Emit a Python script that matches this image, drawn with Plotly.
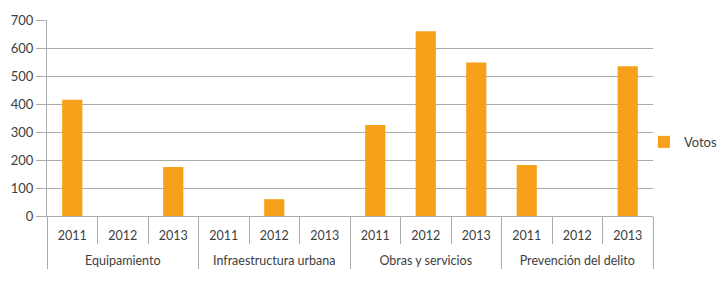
import plotly.graph_objects as go

categories = ["Equipamiento", "Infraestructura urbana", "Obras y servicios", "Prevención del delito"]
years = ["2011", "2012", "2013"]
votos = [
    [415, 0, 175],
    [0, 60, 0],
    [325, 660, 548],
    [182, 0, 535],
]

outer = []
inner = []
vals = []
for c, row in zip(categories, votos):
    for y, v in zip(years, row):
        outer.append(c)
        inner.append(y + "<br> ")
        vals.append(v)

font_family = "Lato, Roboto, sans-serif"
text_color = "#404040"
grid_color = "#ABABAB"

fig = go.Figure()
fig.add_trace(go.Bar(
    x=[outer, inner],
    y=vals,
    name="Votos",
    marker=dict(color="#F7A11A", line=dict(width=0)),
    showlegend=True,
))

# page body has an 8px default margin, so the figure is sized/offset to compensate
fig.update_layout(
    width=710,
    height=266,
    margin=dict(l=39, r=65, t=12, b=58, autoexpand=False),
    paper_bgcolor="white",
    plot_bgcolor="white",
    bargap=0.6,
    font=dict(family=font_family, size=13, color=text_color),
    showlegend=True,
    legend=dict(
        x=0.985, y=0.378, xanchor="left", yanchor="middle",
        font=dict(size=13, color=text_color),
        itemwidth=30,
        bgcolor="rgba(0,0,0,0)",
    ),
    xaxis=dict(
        type="multicategory",
        showline=True,
        linecolor=grid_color,
        linewidth=1,
        ticks="outside",
        tickson="boundaries",
        ticklen=27,
        tickcolor=grid_color,
        showdividers=True,
        dividercolor=grid_color,
        dividerwidth=1,
        showgrid=False,
        ticklabelstandoff=8,
        tickfont=dict(size=12.5, color=text_color),
    ),
    yaxis=dict(
        range=[0, 700],
        dtick=100,
        showgrid=True,
        gridcolor=grid_color,
        gridwidth=1,
        zeroline=False,
        showline=True,
        linecolor=grid_color,
        ticks="outside",
        ticklen=10,
        tickcolor=grid_color,
        tickfont=dict(size=13, color=text_color),
    ),
)

fig.write_html("out.html")
